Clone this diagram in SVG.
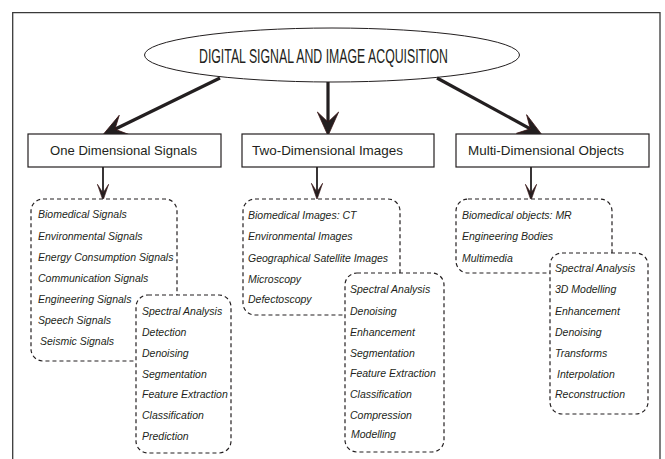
<svg xmlns="http://www.w3.org/2000/svg" width="665" height="459" viewBox="0 0 665 459">
<style>
text{font-family:"Liberation Sans",Arial,sans-serif;fill:#231f20}
.title{font-size:20px}
.box{fill:#fff;stroke:#231f20;stroke-width:1.2}
.btxt{font-size:13px}
.dash{fill:#fff;stroke:#231f20;stroke-width:1.2;stroke-dasharray:4 3}
.it{font-size:10.5px;font-style:italic}
.big{stroke:#231f20;stroke-width:3.2;fill:none}
.small{stroke:#231f20;stroke-width:1.8;fill:none}
</style>
<defs>
<marker id="bigHead" markerUnits="userSpaceOnUse" orient="auto" refX="0" refY="0" markerWidth="30" markerHeight="30" viewBox="-10 -10 24 20" overflow="visible">
<path d="M11,0 L-8,-8.5 L0,0 L-8,8.5 Z" fill="#231f20" stroke="#3b1515" stroke-width="0.6"/>
</marker>
<marker id="smallHead" markerUnits="userSpaceOnUse" orient="auto" refX="0" refY="0" markerWidth="20" markerHeight="20" viewBox="-8 -6 16 12" overflow="visible">
<path d="M6,0 L-7,-4.5 L0,0 L-7,4.5 Z" fill="#231f20" stroke="#3b1515" stroke-width="0.5"/>
</marker>
</defs>
<path d="M12.7,460 V12.7 H660 V460" fill="none" stroke="#3a3a3a" stroke-width="1.3"/>

<g id="root">
<ellipse cx="332" cy="55" rx="187.5" ry="27" fill="#fff" stroke="#231f20" stroke-width="1"/>
<text class="title" x="199" y="63" textLength="249" lengthAdjust="spacingAndGlyphs">DIGITAL SIGNAL AND IMAGE ACQUISITION</text>
</g>

<g id="connectors">
<line class="big" x1="220" y1="78" x2="114.9" y2="129.2" marker-end="url(#bigHead)"/>
<line class="big" x1="328" y1="82" x2="328" y2="122" marker-end="url(#bigHead)"/>
<line class="big" x1="437" y1="78" x2="530.3" y2="128.8" marker-end="url(#bigHead)"/>
<line class="small" x1="103" y1="167" x2="103" y2="193" marker-end="url(#smallHead)"/>
<line class="small" x1="317" y1="167" x2="317" y2="192" marker-end="url(#smallHead)"/>
<line class="small" x1="531" y1="167" x2="531" y2="193" marker-end="url(#smallHead)"/>
</g>

<g id="one-dim">
<rect class="box" x="28" y="134" width="193" height="33"/>
<text class="btxt" x="50" y="155" textLength="147" lengthAdjust="spacingAndGlyphs">One Dimensional Signals</text>
</g>
<g id="two-dim">
<rect class="box" x="242" y="134" width="192" height="33"/>
<text class="btxt" x="252" y="155" textLength="151" lengthAdjust="spacingAndGlyphs">Two-Dimensional Images</text>
</g>
<g id="multi-dim">
<rect class="box" x="456" y="134" width="193" height="33"/>
<text class="btxt" x="468" y="155" textLength="156" lengthAdjust="spacingAndGlyphs">Multi-Dimensional Objects</text>
</g>

<g id="one-dim-sources">
<rect class="dash" x="31" y="199" width="146" height="162" rx="12"/>
<text class="it" x="38" y="218">Biomedical Signals</text>
<text class="it" x="38" y="240">Environmental Signals</text>
<text class="it" x="38" y="261">Energy Consumption Signals</text>
<text class="it" x="38" y="282">Communication Signals</text>
<text class="it" x="38" y="303">Engineering Signals</text>
<text class="it" x="38" y="324">Speech Signals</text>
<text class="it" x="40" y="345">Seismic Signals</text>
</g>
<g id="one-dim-methods">
<rect class="dash" x="136" y="295" width="95" height="158" rx="12"/>
<text class="it" x="142" y="315">Spectral Analysis</text>
<text class="it" x="142" y="336">Detection</text>
<text class="it" x="142" y="357">Denoising</text>
<text class="it" x="142" y="378">Segmentation</text>
<text class="it" x="142" y="398">Feature Extraction</text>
<text class="it" x="142" y="419">Classification</text>
<text class="it" x="142" y="440">Prediction</text>
</g>

<g id="two-dim-sources">
<rect class="dash" x="243" y="199" width="157" height="116" rx="12"/>
<text class="it" x="248" y="219">Biomedical Images:  CT</text>
<text class="it" x="248" y="240">Environmental Images</text>
<text class="it" x="248" y="262">Geographical Satellite Images</text>
<text class="it" x="248" y="283">Microscopy</text>
<text class="it" x="248" y="303">Defectoscopy</text>
</g>
<g id="two-dim-methods">
<rect class="dash" x="345" y="273" width="99" height="179" rx="12"/>
<text class="it" x="350" y="293">Spectral Analysis</text>
<text class="it" x="350" y="315">Denoising</text>
<text class="it" x="350" y="336">Enhancement</text>
<text class="it" x="350" y="357">Segmentation</text>
<text class="it" x="350" y="377">Feature Extraction</text>
<text class="it" x="350" y="398">Classification</text>
<text class="it" x="350" y="419">Compression</text>
<text class="it" x="351" y="438">Modelling</text>
</g>

<g id="multi-dim-sources">
<rect class="dash" x="456" y="199" width="156" height="74" rx="12"/>
<text class="it" x="462" y="219">Biomedical objects: MR</text>
<text class="it" x="462" y="240">Engineering Bodies</text>
<text class="it" x="462" y="262">Multimedia</text>
</g>
<g id="multi-dim-methods">
<rect class="dash" x="550" y="253" width="98" height="161" rx="12"/>
<text class="it" x="555" y="272">Spectral Analysis</text>
<text class="it" x="555" y="293">3D Modelling</text>
<text class="it" x="555" y="315">Enhancement</text>
<text class="it" x="555" y="336">Denoising</text>
<text class="it" x="555" y="357">Transforms</text>
<text class="it" x="557" y="378">Interpolation</text>
<text class="it" x="555" y="398">Reconstruction</text>
</g>
</svg>
